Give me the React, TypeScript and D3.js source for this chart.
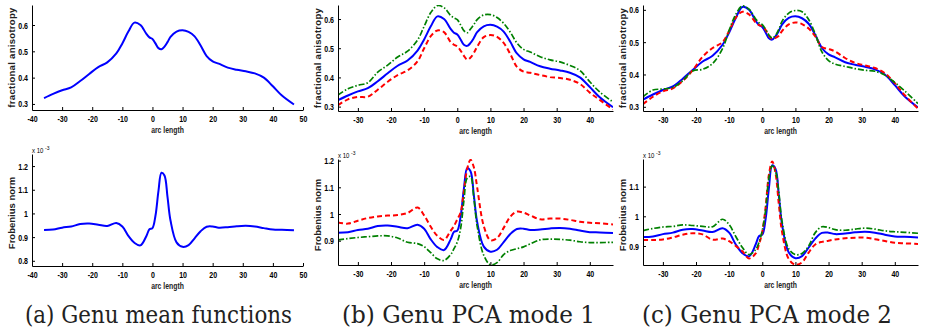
import React, { useEffect, useRef } from 'react';
import * as d3 from 'd3';

// arc length sample positions shared by every curve
const arcLength = [-36, -33, -30, -27, -24, -21, -18, -15, -12, -10, -8, -6, -4, -2, -1, 0, 1, 2, 3, 4, 5, 6, 8, 10, 12, 14, 16, 18, 20, 22, 25, 28, 31, 34, 37, 40, 43, 47];

// fractional anisotropy
const faMean = [0.322, 0.338, 0.352, 0.363, 0.387, 0.414, 0.440, 0.458, 0.492, 0.530, 0.575, 0.609, 0.600, 0.566, 0.553, 0.547, 0.530, 0.512, 0.508, 0.518, 0.535, 0.555, 0.575, 0.580, 0.574, 0.557, 0.522, 0.482, 0.462, 0.453, 0.438, 0.430, 0.424, 0.416, 0.400, 0.367, 0.332, 0.298];
const faMode1Pos = [0.340, 0.361, 0.373, 0.382, 0.418, 0.442, 0.470, 0.490, 0.528, 0.575, 0.622, 0.646, 0.639, 0.612, 0.604, 0.598, 0.580, 0.560, 0.553, 0.566, 0.581, 0.598, 0.614, 0.615, 0.605, 0.585, 0.555, 0.518, 0.496, 0.487, 0.471, 0.460, 0.453, 0.441, 0.424, 0.385, 0.350, 0.316];
const faMode1Neg = [0.305, 0.325, 0.333, 0.334, 0.358, 0.385, 0.408, 0.424, 0.455, 0.500, 0.541, 0.561, 0.555, 0.521, 0.512, 0.506, 0.492, 0.474, 0.461, 0.468, 0.484, 0.505, 0.538, 0.545, 0.539, 0.518, 0.480, 0.436, 0.420, 0.416, 0.408, 0.401, 0.398, 0.392, 0.378, 0.348, 0.323, 0.290];
const faMode2Pos = [0.331, 0.352, 0.355, 0.360, 0.381, 0.411, 0.416, 0.434, 0.480, 0.537, 0.586, 0.612, 0.602, 0.572, 0.560, 0.554, 0.540, 0.522, 0.513, 0.521, 0.540, 0.565, 0.590, 0.598, 0.594, 0.570, 0.525, 0.470, 0.443, 0.432, 0.425, 0.418, 0.413, 0.410, 0.398, 0.375, 0.349, 0.310];
const faMode2Neg = [0.308, 0.331, 0.348, 0.357, 0.380, 0.413, 0.455, 0.482, 0.500, 0.535, 0.576, 0.594, 0.586, 0.561, 0.553, 0.549, 0.538, 0.520, 0.510, 0.513, 0.520, 0.535, 0.555, 0.561, 0.556, 0.542, 0.518, 0.485, 0.479, 0.471, 0.451, 0.436, 0.428, 0.420, 0.404, 0.373, 0.336, 0.294];

// Frobenius norm (x 10^-3)
const frobMean = [0.930, 0.932, 0.940, 0.945, 0.955, 0.957, 0.952, 0.947, 0.960, 0.945, 0.905, 0.876, 0.865, 0.905, 0.933, 0.938, 0.990, 1.095, 1.172, 1.160, 1.070, 0.970, 0.878, 0.859, 0.866, 0.895, 0.925, 0.944, 0.945, 0.940, 0.942, 0.946, 0.948, 0.945, 0.938, 0.932, 0.931, 0.929];
const frobMode1Pos = [0.903, 0.908, 0.912, 0.915, 0.918, 0.918, 0.910, 0.894, 0.889, 0.878, 0.855, 0.832, 0.826, 0.848, 0.870, 0.895, 0.945, 1.050, 1.135, 1.140, 1.060, 0.955, 0.845, 0.810, 0.818, 0.848, 0.863, 0.870, 0.877, 0.888, 0.903, 0.906, 0.905, 0.902, 0.896, 0.893, 0.893, 0.894];
const frobMode1Neg = [0.968, 0.964, 0.975, 0.985, 0.991, 0.994, 0.996, 1.004, 1.024, 0.995, 0.952, 0.918, 0.903, 0.937, 0.955, 0.980, 1.005, 1.085, 1.170, 1.203, 1.175, 1.100, 0.955, 0.902, 0.910, 0.948, 0.990, 1.009, 1.005, 0.995, 0.980, 0.983, 0.983, 0.978, 0.971, 0.967, 0.965, 0.961];
const frobMode2Pos = [0.952, 0.959, 0.964, 0.966, 0.971, 0.969, 0.966, 0.965, 0.990, 0.972, 0.932, 0.895, 0.871, 0.888, 0.912, 0.952, 1.020, 1.130, 1.170, 1.152, 1.080, 0.980, 0.890, 0.871, 0.875, 0.900, 0.945, 0.965, 0.962, 0.955, 0.953, 0.957, 0.960, 0.957, 0.951, 0.948, 0.946, 0.943];
const frobMode2Neg = [0.920, 0.920, 0.922, 0.929, 0.938, 0.943, 0.939, 0.921, 0.925, 0.916, 0.900, 0.882, 0.858, 0.875, 0.905, 0.948, 1.030, 1.140, 1.185, 1.145, 1.040, 0.945, 0.856, 0.837, 0.845, 0.878, 0.905, 0.914, 0.918, 0.922, 0.926, 0.928, 0.928, 0.923, 0.917, 0.911, 0.909, 0.907];

const xTicksWide = [-40, -30, -20, -10, 0, 10, 20, 30, 40, 50];
const xTicksTight = [-30, -20, -10, 0, 10, 20, 30, 40];
const faTicks = [0.3, 0.4, 0.5, 0.6];
const frobTicksA = [0.8, 0.9, 1, 1.1, 1.2];
const frobTicksB = [0.9, 1, 1.1, 1.2];
const frobTicksC = [0.9, 1, 1.1];
const captions = ['(a) Genu mean functions', '(b) Genu PCA mode 1', '(c) Genu PCA mode 2'];

const BLUE = '#0000ff';
const RED = '#ff0000';
const GREEN = '#008000';
const SANS = '"Liberation Sans", Arial, sans-serif';
const SERIF = '"DejaVu Serif", "Liberation Serif", serif';

export default function App() {
  const svgRef = useRef<SVGSVGElement>(null);

  useEffect(() => {
    if (!svgRef.current) return;
    const svg = d3.select(svgRef.current);
    svg.selectAll('*').remove();

    // squeeze horizontal text the way the original figure was compressed
    const squeeze = (sel: any, k: number) =>
      sel.each(function (this: SVGTextElement) {
        const w = this.getComputedTextLength();
        this.setAttribute('textLength', String(w * k));
        this.setAttribute('lengthAdjust', 'spacingAndGlyphs');
      });

    const mean = { color: BLUE, width: 2, dash: null };
    const neg = { color: RED, width: 2, dash: '5,3' };
    const pos = { color: GREEN, width: 1.7, dash: '6,2,1.5,2' };

    const columns = [
      {
        x0: 32, x1: 303, xDomain: [-40, 50], xTicks: xTicksWide, caption: captions[0], capX: 25, capW: 267,
        rows: [
          { y0: 5, y1: 110, yDomain: [0.277, 0.676], yTicks: faTicks, label: 'fractional anisotropy', exp: false,
            series: [{ v: faMean, ...mean }] },
          { y0: 154, y1: 266, yDomain: [0.778, 1.251], yTicks: frobTicksA, label: 'Frobenius norm', exp: true,
            series: [{ v: frobMean, ...mean }] },
        ],
      },
      {
        x0: 338, x1: 613, xDomain: [-36, 47], xTicks: xTicksTight, caption: captions[1], capX: 342, capW: 253,
        rows: [
          { y0: 5, y1: 111, yDomain: [0.285, 0.648], yTicks: faTicks, label: 'fractional anisotropy', exp: false,
            series: [{ v: faMean, ...mean }, { v: faMode1Neg, ...neg }, { v: faMode1Pos, ...pos }] },
          { y0: 159, y1: 265, yDomain: [0.809, 1.206], yTicks: frobTicksB, label: 'Frobenius norm', exp: true,
            series: [{ v: frobMean, ...mean }, { v: frobMode1Neg, ...neg }, { v: frobMode1Pos, ...pos }] },
        ],
      },
      {
        x0: 643, x1: 918, xDomain: [-36, 47], xTicks: xTicksTight, caption: captions[2], capX: 642, capW: 250,
        rows: [
          { y0: 5, y1: 111, yDomain: [0.287, 0.615], yTicks: faTicks, label: 'fractional anisotropy', exp: false,
            series: [{ v: faMean, ...mean }, { v: faMode2Neg, ...neg }, { v: faMode2Pos, ...pos }] },
          { y0: 159, y1: 265, yDomain: [0.836, 1.193], yTicks: frobTicksC, label: 'Frobenius norm', exp: true,
            series: [{ v: frobMean, ...mean }, { v: frobMode2Neg, ...neg }, { v: frobMode2Pos, ...pos }] },
        ],
      },
    ];

    const defs = svg.append('defs');

    columns.forEach((col, ci) => {
      const x = d3.scaleLinear().domain(col.xDomain).range([col.x0, col.x1]);

      col.rows.forEach((row, ri) => {
        const y = d3.scaleLinear().domain(row.yDomain).range([row.y1, row.y0]);
        const clipId = `clip-${ci}-${ri}`;
        defs.append('clipPath').attr('id', clipId)
          .append('rect')
          .attr('x', col.x0).attr('y', row.y0)
          .attr('width', col.x1 - col.x0).attr('height', row.y1 - row.y0);

        const line = d3.line<number>()
          .x((_, i) => x(arcLength[i]))
          .y(d => y(d))
          .curve(d3.curveCatmullRom.alpha(0.5));

        const plot = svg.append('g').attr('clip-path', `url(#${clipId})`);
        row.series.forEach(s => {
          plot.append('path')
            .attr('d', line(s.v))
            .attr('fill', 'none')
            .attr('stroke', s.color)
            .attr('stroke-width', s.width)
            .attr('stroke-dasharray', s.dash)
            .attr('stroke-linejoin', 'round');
        });

        // axes, MATLAB style: ticks pointing inward
        const gx = svg.append('g')
          .attr('transform', `translate(0,${row.y1})`)
          .call(d3.axisBottom(x).tickValues(col.xTicks).tickFormat(d => String(d))
            .tickSizeInner(-3).tickSizeOuter(0).tickPadding(5));
        const gy = svg.append('g')
          .attr('transform', `translate(${col.x0},0)`)
          .call(d3.axisLeft(y).tickValues(row.yTicks).tickFormat(d => String(d))
            .tickSizeInner(-3).tickSizeOuter(0).tickPadding(4));

        [gx, gy].forEach(g => {
          g.attr('font-family', SANS)
            .attr('font-size', 9.5)
            .attr('font-weight', 'bold')
            .attr('color', '#000');
          g.select('.domain').attr('stroke-width', 1);
          squeeze(g.selectAll('text'), 0.74);
        });

        const xl = svg.append('text')
          .attr('x', (col.x0 + col.x1) / 2)
          .attr('y', row.y1 + 23)
          .attr('text-anchor', 'middle')
          .attr('font-family', SANS)
          .attr('font-size', 9.5)
          .attr('font-weight', 'bold')
          .attr('fill', '#222')
          .text('arc length');
        squeeze(xl, 0.72);

        svg.append('text')
          .attr('transform', `translate(${col.x0 - 17},${(row.y0 + row.y1) / 2 + (row.exp ? 3 : 0)}) rotate(-90)`)
          .attr('text-anchor', 'middle')
          .attr('font-family', SANS)
          .attr('font-size', 9.5)
          .attr('font-weight', 'bold')
          .attr('letter-spacing', row.exp ? 0 : 0.3)
          .attr('fill', '#222')
          .text(row.label);

        if (row.exp) {
          // "x 10^-3" multiplier above the y axis
          const base = svg.append('text')
            .attr('x', col.x0)
            .attr('y', row.y0 - 1)
            .attr('font-family', SANS)
            .attr('font-size', 7.5)
            .attr('fill', '#000')
            .text('x 10');
          squeeze(base, 0.8);
          svg.append('text')
            .attr('x', col.x0 + 13)
            .attr('y', row.y0 - 4)
            .attr('font-family', SANS)
            .attr('font-size', 5)
            .attr('fill', '#000')
            .text('-3');
        }
      });

      svg.append('text')
        .attr('x', col.capX)
        .attr('y', 323)
        .style('font-family', SERIF)
        .attr('font-size', 24)
        .attr('fill', '#222')
        .attr('textLength', col.capW)
        .attr('lengthAdjust', 'spacingAndGlyphs')
        .text(col.caption);
    });
  }, []);

  return (
    <svg
      ref={svgRef}
      width={925}
      height={331}
      style={{ position: 'absolute', left: 0, top: 0, background: '#fff' }}
    />
  );
}
